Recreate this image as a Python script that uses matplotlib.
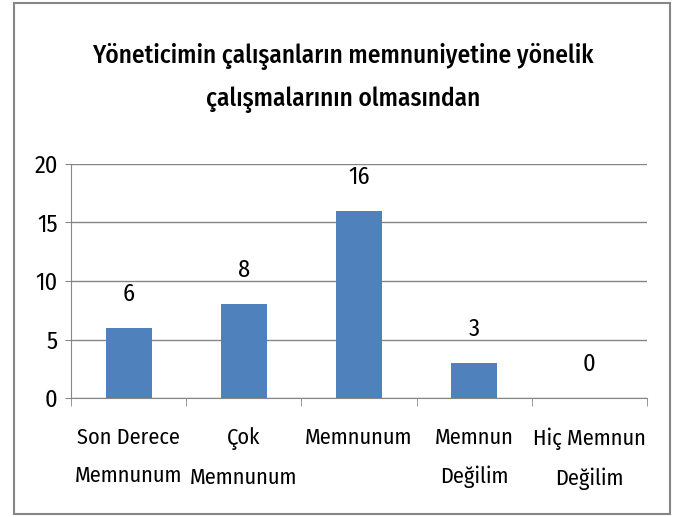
import matplotlib.pyplot as plt
import matplotlib.patches as patches
import numpy as np

categories = ["Son Derece\nMemnunum", "Çok\nMemnunum", "Memnunum", "Memnun\nDeğilim", "Hiç Memnun\nDeğilim"]
values = [6, 8, 16, 3, 0]
title = "Yöneticimin çalışanların memnuniyetine yönelik\nçalışmalarının olmasından"

plt.rcParams['font.family'] = ['Fira Sans Condensed', 'DejaVu Sans']

W, H = 679, 517
fig = plt.figure(figsize=(W / 100, H / 100), dpi=100)

# outer chart border
fig.patches.append(patches.Rectangle((14 / W, 1 - 514 / H), 656 / W, 511 / H,
                                     transform=fig.transFigure, fill=False,
                                     edgecolor='#868686', linewidth=1.5))

ax = fig.add_axes([71 / W, 1 - 398 / H, 576 / W, 234 / H])
x = np.arange(len(categories))
bars = ax.bar(x, values, width=0.4, color='#4F81BD', zorder=3)

for b, v in zip(bars, values):
    ax.annotate(f'{v}', xy=(b.get_x() + b.get_width() / 2, v), xytext=(0, 16),
                textcoords='offset points', ha='center', va='bottom', fontsize=17.5)

ax.set_xlim(-0.5, len(categories) - 0.5)
ax.set_ylim(0, 20)
ax.set_yticks([0, 5, 10, 15, 20])
ax.yaxis.grid(True, color='#868686', linewidth=1)
ax.set_axisbelow(True)

ax.set_xticks(x)
ax.set_xticklabels(categories, fontsize=16, linespacing=2.0)
ax.set_xticks(np.arange(-0.5, len(categories)), minor=True)
ax.tick_params(axis='x', which='major', length=0, pad=21)
ax.tick_params(axis='x', which='minor', length=6, color='#868686')
ax.tick_params(axis='y', length=4.5, color='#868686', labelsize=17.5, pad=5)

for s in ['top', 'right']:
    ax.spines[s].set_visible(False)
for s in ['left', 'bottom']:
    ax.spines[s].set_color('#868686')

fig.text(343 / W, 1 - 78 / H, title, ha='center', va='center', fontsize=18.2,
         fontweight=500, linespacing=1.8)

fig.savefig('out.png', dpi=100)
